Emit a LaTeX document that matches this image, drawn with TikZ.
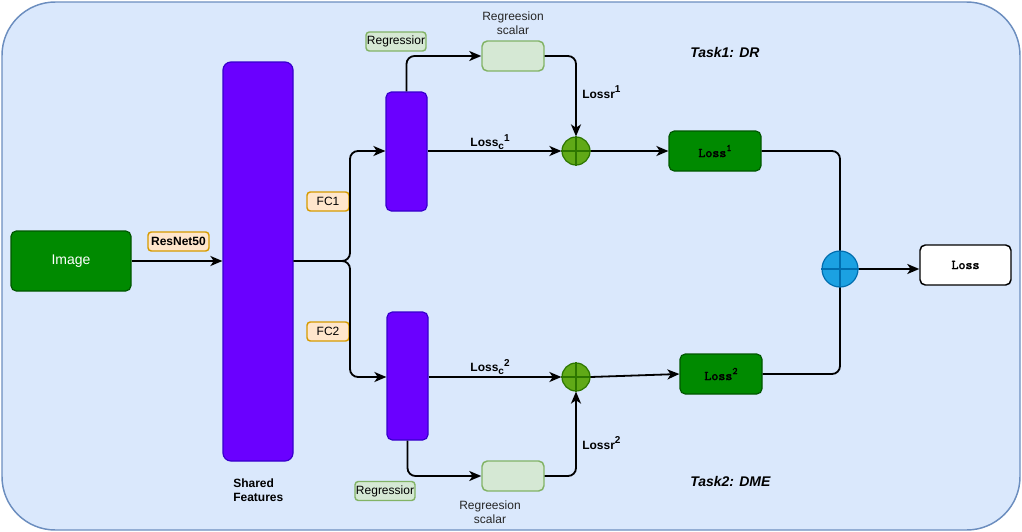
\documentclass[tikz,border=0pt]{standalone}
\usepackage{fontspec}
\setmainfont{Liberation Sans}
\newfontfamily\monob[Extension=.otf, FakeBold=2.2]{lmmono10-regular}
\usetikzlibrary{arrows.meta}
\definecolor{bgfill}{HTML}{DAE8FC}
\definecolor{bgline}{HTML}{6C8EBF}
\definecolor{dgfill}{HTML}{008A00}
\definecolor{dgline}{HTML}{005700}
\definecolor{pufill}{HTML}{6A00FF}
\definecolor{puline}{HTML}{3700CC}
\definecolor{orfill}{HTML}{FFE6CC}
\definecolor{orline}{HTML}{D79B00}
\definecolor{lgfill}{HTML}{D5E8D4}
\definecolor{lgline}{HTML}{82B366}
\definecolor{cgfill}{HTML}{60A917}
\definecolor{cgline}{HTML}{2D7600}
\definecolor{blfill}{HTML}{1BA1E2}
\definecolor{blline}{HTML}{006EAF}
\newcommand\mysup[1]{\raisebox{0.45em}{\fontsize{7.5}{8}\selectfont #1}}
\newcommand\mysub[1]{\raisebox{-0.25em}{\fontsize{7.5}{8}\selectfont #1}}
\tikzset{
  base/.style={draw, rounded corners=4pt, line width=0.9pt, inner sep=0pt, align=center, font=\fontsize{9}{11}\selectfont},
  darkbox/.style={base, fill=dgfill, draw=dgline},
  barbox/.style={base, fill=pufill, draw=puline, minimum width=30.75pt},
  tagbox/.style={base, fill=orfill, draw=orline, line width=1.1pt, minimum height=14.25pt, rounded corners=2.5pt},
  regbox/.style={base, fill=lgfill, draw=lgline, line width=1.1pt, minimum height=14.25pt, minimum width=45pt, rounded corners=2.5pt},
  scalarbox/.style={base, fill=lgfill, draw=lgline, line width=1.1pt, minimum width=46.5pt, minimum height=22.5pt},
  sumcirc/.style={circle, draw, line width=0.9pt, inner sep=0pt},
  conn/.style={line width=1.35pt, rounded corners=6pt},
  arr/.style={conn, -{Stealth[length=9pt, width=7.5pt, inset=2.5pt]}},
  lbl/.style={font=\fontsize{9}{11}\selectfont\bfseries, inner sep=0pt},
  monolbl/.style={font=\fontsize{10}{11}\selectfont\monob},
  plain/.style={font=\fontsize{9}{10.5}\selectfont, align=center, inner sep=0pt, text=black!85},
  task/.style={font=\fontsize{10.5}{12}\selectfont\bfseries\itshape, inner sep=0pt, anchor=west}
}
\begin{document}
\begin{tikzpicture}[x=0.75pt, y=-0.75pt]
\useasboundingbox (0,0) rectangle (1022,532);
% container
\node[draw=bgline, fill=bgfill, line width=1.1pt, rounded corners=40pt, minimum width=763.5pt, minimum height=396pt, inner sep=0pt] (bg) at (511,266) {};

% nodes
\node[darkbox, minimum width=90pt, minimum height=45pt, text=white, font=\fontsize{10.5}{12}\selectfont] (img) at (71,261) {\raisebox{-1pt}{Image}};
\node[tagbox, minimum width=45.75pt, font=\fontsize{9}{11}\selectfont\bfseries] (resnet) at (178.5,241.5) {ResNet50};
\node[barbox, minimum width=52.5pt, minimum height=299.25pt, rounded corners=6pt] (shared) at (258,261.5) {};
\node[lbl, align=left, anchor=north west, font=\fontsize{9}{10}\selectfont\bfseries] (sf) at (233,479) {Shared\\Features};
\node[tagbox, minimum width=31.5pt] (fc1) at (328,201.5) {FC1};
\node[tagbox, minimum width=31.5pt] (fc2) at (328,331.5) {FC2};
\node[barbox, minimum height=89.25pt] (bar1) at (406.5,151.5) {};
\node[barbox, minimum height=96pt] (bar2) at (407.5,376) {};
\node[scalarbox] (sc1) at (513,56) {};
\node[scalarbox] (sc2) at (513,476) {};
\node[plain] (sc1t) at (513,23) {Regreesion\\scalar};
\node[plain] (sc2t) at (490,512) {Regreesion\\scalar};
\node[regbox] (reg1) at (396,41.5) {Regressior};
\node[regbox] (reg2) at (385,491) {Regressior};
\node[sumcirc, fill=cgfill, draw=cgline, minimum size=21pt] (c1) at (576,151) {};
\node[sumcirc, fill=cgfill, draw=cgline, minimum size=21pt] (c2) at (576,377) {};
\node[darkbox, minimum width=69pt, minimum height=30pt, monolbl] (loss1) at (715,151) {Loss\mysup{1}};
\node[darkbox, minimum width=61.5pt, minimum height=30pt, monolbl] (loss2) at (721,374) {Loss\mysup{2}};
\node[sumcirc, fill=blfill, draw=blline, minimum size=27pt] (bc) at (840,269) {};
\node[base, fill=white, draw=black, line width=1.1pt, minimum width=68.25pt, minimum height=30pt, monolbl] (loss) at (965.5,265) {Loss};

% crosses in circles
\draw[cgline, line width=0.9pt] (c1.north) -- (c1.south) (c1.west) -- (c1.east);
\draw[cgline, line width=0.9pt] (c2.north) -- (c2.south) (c2.west) -- (c2.east);
\draw[blline, line width=0.9pt] (bc.north) -- (bc.south) (bc.west) -- (bc.east);

% labels
\node[lbl] (lc1) at (490,142) {Loss\mysub{c}\mysup{1}};
\node[lbl] (lc2) at (490,367) {Loss\mysub{c}\mysup{2}};
\node[lbl, anchor=west] (lr1) at (582,92) {Lossr\mysup{1}};
\node[lbl, anchor=west] (lr2) at (582,443) {Lossr\mysup{2}};
\node[task] (t1) at (690,52) {Task1: DR};
\node[task] (t2) at (690,481) {Task2: DME};

% connectors
\coordinate (split) at (350,261);
\draw[arr] (img.east) -- (img.east -| shared.west);
\draw[arr] (img.east -| shared.east) -- (split) |- (bar1.west |- c1);
\draw[arr] (img.east -| shared.east) -- (split) |- (bar2.west |- c2);
\draw[arr] (bar1.north) |- (sc1.west);
\draw[arr] (sc1.east) -| (c1.north);
\draw[arr] (bar1.east |- c1) -- (c1.west);
\draw[arr] (c1.east) -- (loss1.west);
\draw[conn] (loss1.east) -| (bc.north);
\draw[arr] (bar2.south) |- (sc2.west);
\draw[arr] (sc2.east) -| (c2.south);
\draw[arr] (bar2.east |- c2) -- (c2.west);
\draw[arr] (c2.east) -- (loss2.west);
\draw[conn] (loss2.east) -| (bc.south);
\draw[arr, line width=2.2pt] (bc.east) -- (bc.east -| loss.west);
\end{tikzpicture}
\end{document}
